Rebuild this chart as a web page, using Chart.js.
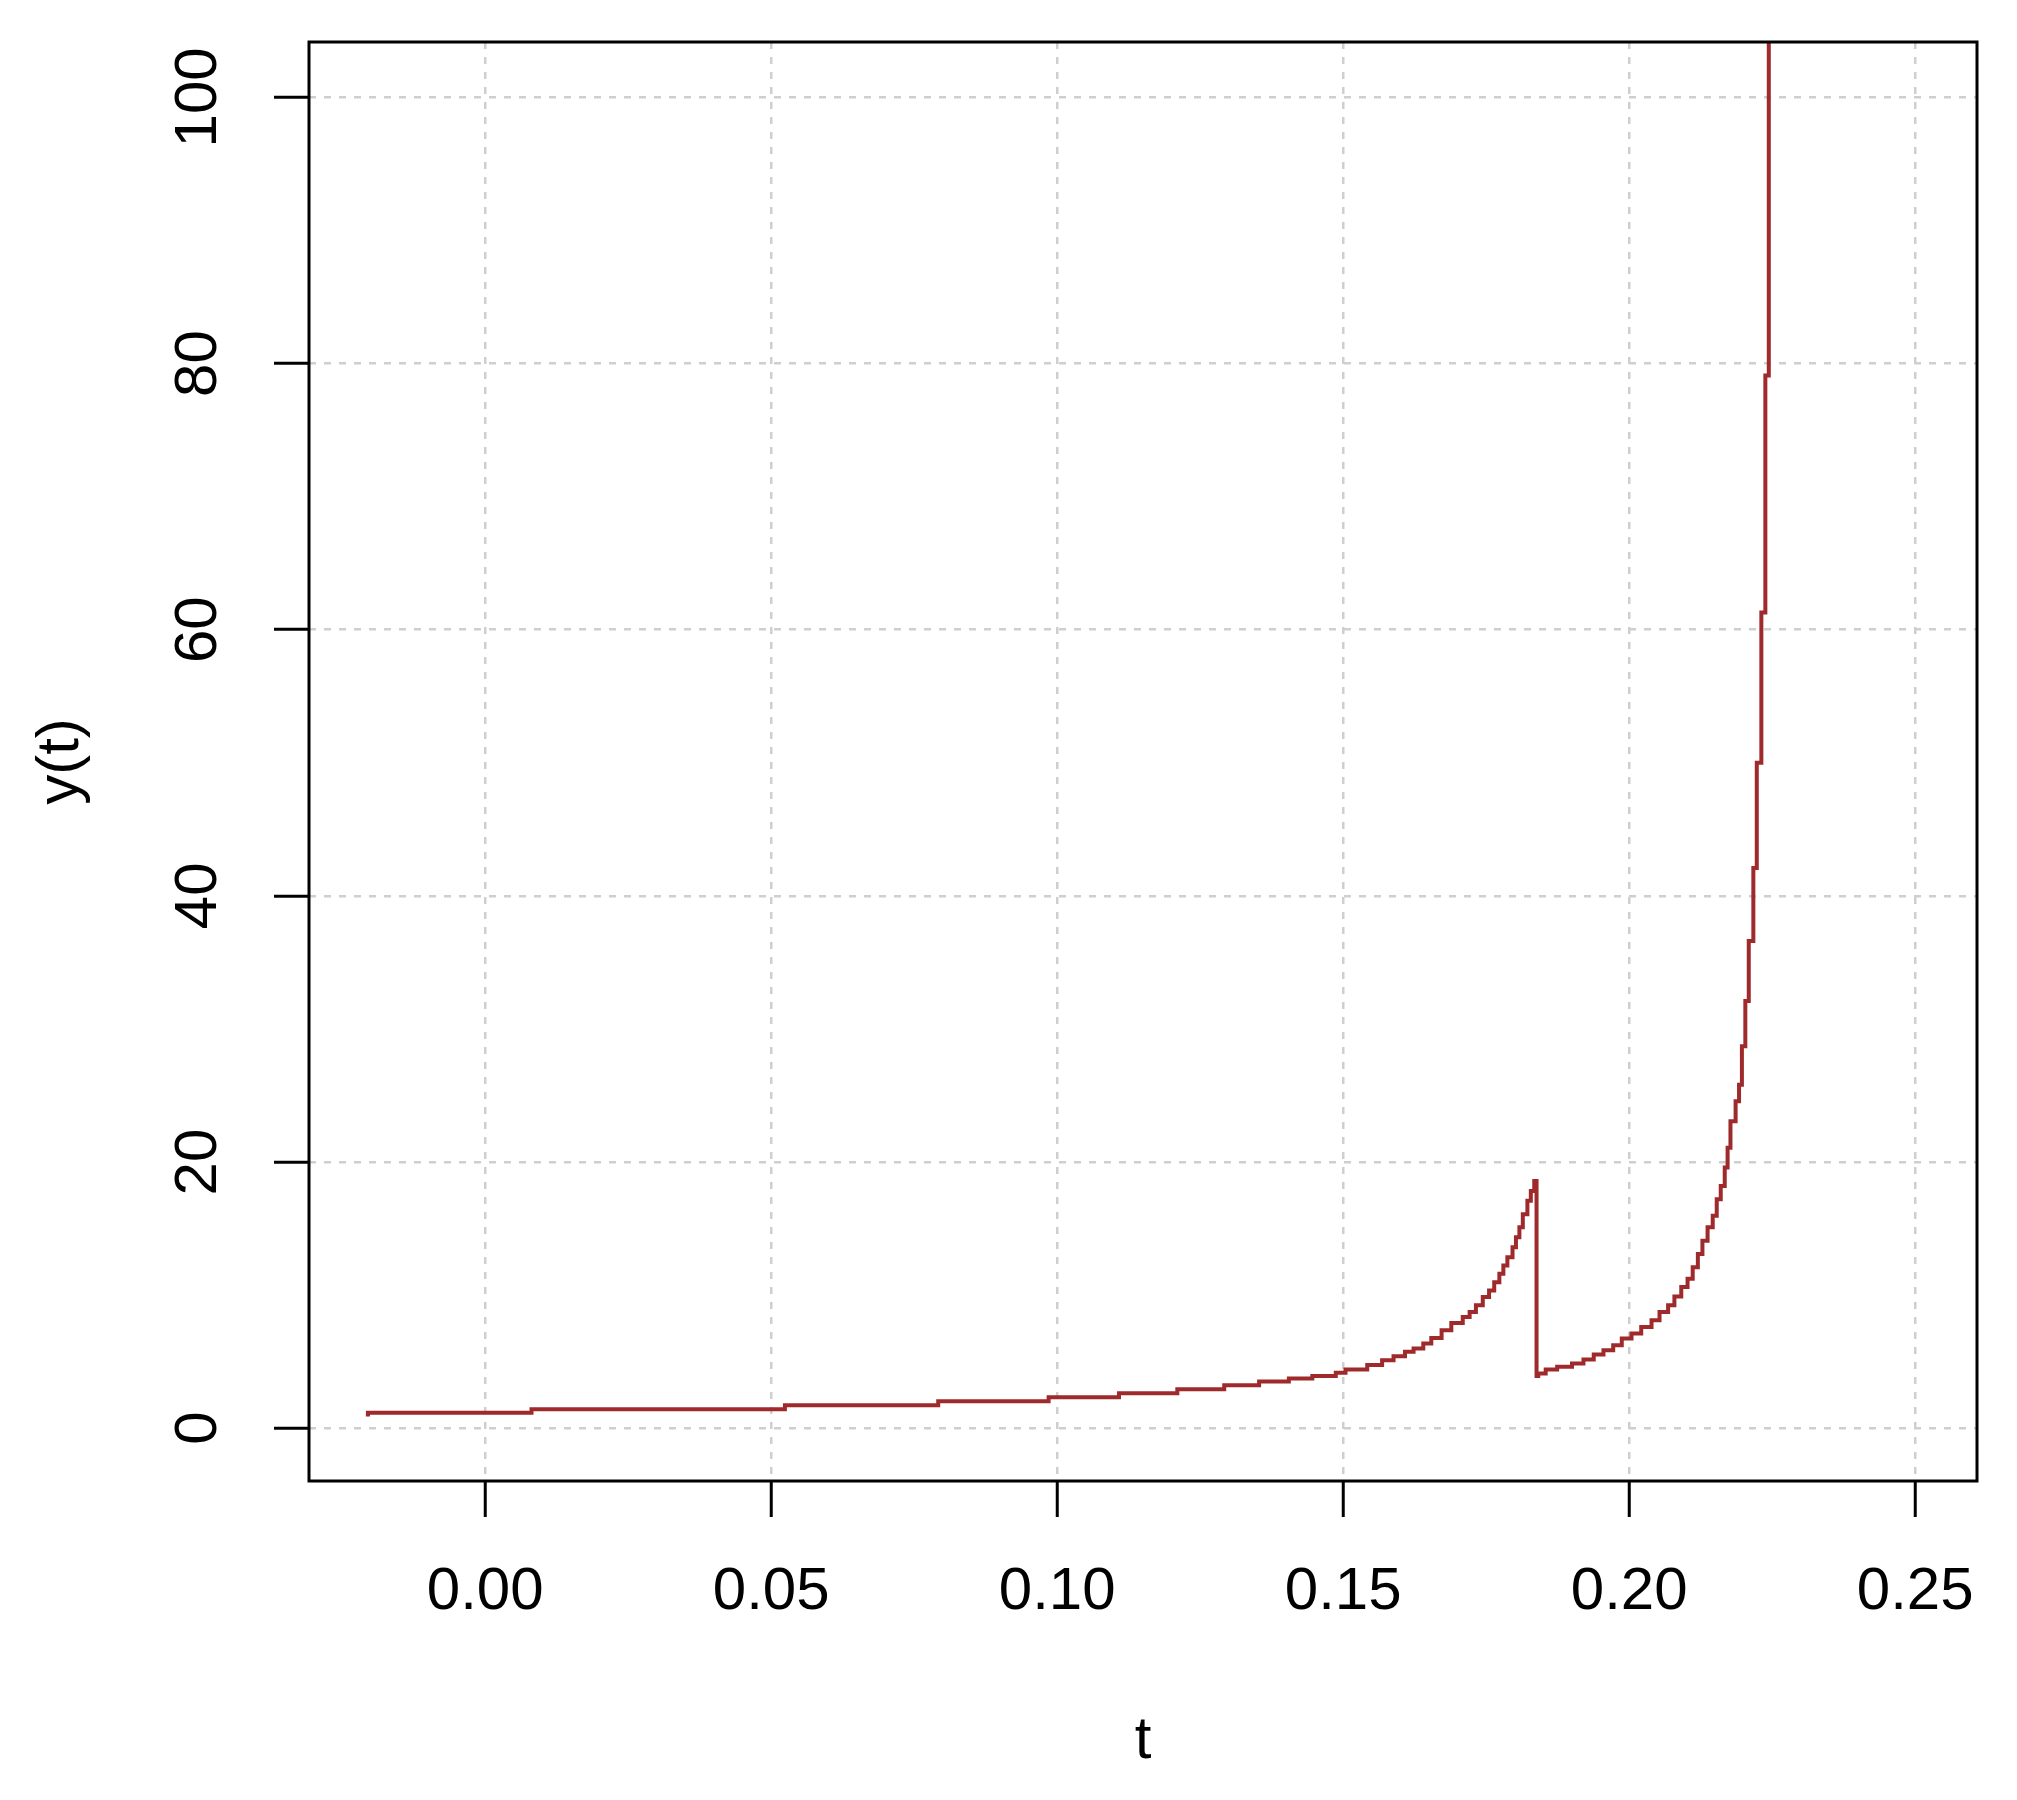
<!DOCTYPE html>
<html>
<head>
<meta charset="utf-8">
<title>y(t)</title>
<script src="https://cdn.jsdelivr.net/npm/chart.js@4.4.1/dist/chart.umd.min.js"></script>
<style>
  html, body { margin: 0; padding: 0; background: #fff; }
  #wrap { width: 2017px; height: 1800px; }
</style>
</head>
<body>
<div id="wrap"><canvas id="grafica" width="2017" height="1800"></canvas></div>
<script>
// valores (escalones de la curva)
var tValues = [-0.0205, 0.0081, 0.0524, 0.0792, 0.0985, 0.1108, 0.1210, 0.1292, 0.1353, 0.1405,
               0.1446, 0.1487, 0.1504, 0.1542, 0.1568, 0.1588, 0.1608, 0.1623, 0.1640, 0.1654,
               0.1672, 0.1689, 0.1709, 0.1721, 0.1732, 0.1744, 0.1755, 0.1764, 0.1773, 0.1780,
               0.1787, 0.1796, 0.1802, 0.1808, 0.1814, 0.1822, 0.1828, 0.1834, 0.1838, 0.1841,
               0.1854, 0.1874, 0.1900, 0.1920, 0.1938, 0.1955, 0.1972, 0.1987, 0.2004, 0.2021,
               0.2039, 0.2053, 0.2068, 0.2079, 0.2091, 0.2102, 0.2111, 0.2120, 0.2128, 0.2137,
               0.2146, 0.2153, 0.2160, 0.2167, 0.2172, 0.2177, 0.2186, 0.2192, 0.2197, 0.2203,
               0.2209, 0.2217, 0.2223, 0.2231, 0.2238, 0.2244, 0.2251];
var yValues = [0.88, 1.15, 1.43, 1.73, 2.03, 2.33, 2.63, 2.93, 3.23, 3.51,
               3.74, 3.92, 4.16, 4.41, 4.74, 5.11, 5.41, 5.74, 5.99, 6.36,
               6.78, 7.36, 7.91, 8.35, 8.73, 9.23, 9.85, 10.35, 10.97, 11.6,
               12.22, 12.84, 13.59, 14.34, 15.09, 16.08, 17.08, 17.83, 18.58, 3.92,
               4.11, 4.41, 4.61, 4.86, 5.16, 5.54, 5.86, 6.23, 6.73, 7.11,
               7.61, 8.1, 8.73, 9.23, 9.9, 10.6, 11.22, 12.09, 13.09, 14.09,
               15.09, 15.96, 17.21, 18.2, 19.58, 21.07, 23.07, 24.56, 25.8, 28.7,
               32.1, 36.6, 42.1, 50.0, 61.3, 79.1, 150];
var xTicks = [0.00, 0.05, 0.10, 0.15, 0.20, 0.25];
var yTicks = [0, 20, 40, 60, 80, 100];
var xLabel = 't';
var yLabel = 'y(t)';

var puntos = tValues.map(function (t, i) { return { x: t, y: yValues[i] }; });

var fuente = { family: '"Liberation Sans", Arial, sans-serif', size: 60 };
var gris = '#CFCFCF';

// caja alrededor del area de la grafica
var caja = {
    id: 'caja',
    afterDatasetsDraw: function (chart) {
        var a = chart.chartArea, ctx = chart.ctx;
        ctx.save();
        ctx.strokeStyle = '#000';
        ctx.lineWidth = 3;
        ctx.strokeRect(a.left, a.top, a.right - a.left, a.bottom - a.top);
        ctx.restore();
    }
};

new Chart(document.getElementById('grafica'), {
    type: 'line',
    data: {
        datasets: [{
            label: yLabel,
            data: puntos,
            borderColor: '#9E2A2B',
            borderWidth: 4,
            pointRadius: 0,
            stepped: 'after',
            tension: 0,
            fill: false
        }]
    },
    options: {
        responsive: false,
        devicePixelRatio: 1,
        animation: false,
        layout: { padding: { top: 42, right: 40, left: 0, bottom: 0 } },
        plugins: { legend: { display: false }, tooltip: { enabled: false } },
        scales: {
            x: {
                type: 'linear',
                min: -0.0308,
                max: 0.2608,
                afterBuildTicks: function (s) { s.ticks = xTicks.map(function (v) { return { value: v }; }); },
                afterFit: function (s) { s.height = 319; s.paddingLeft = 0; s.paddingRight = 0; },
                border: { display: false, dash: [7, 8] },
                grid: {
                    color: gris, lineWidth: 2.5,
                    tickColor: '#000', tickWidth: 3, tickLength: 36, tickBorderDash: []
                },
                ticks: {
                    font: fuente, color: '#000', padding: 39,
                    minRotation: 0, maxRotation: 0, autoSkip: false, includeBounds: false,
                    callback: function (v) { return Number(v).toFixed(2); }
                },
                title: { display: true, text: xLabel, font: fuente, color: '#000', padding: { top: 0, bottom: 23 } }
            },
            y: {
                type: 'linear',
                min: -3.97,
                max: 104.16,
                afterBuildTicks: function (s) { s.ticks = yTicks.map(function (v) { return { value: v }; }); },
                afterFit: function (s) { s.width = 309; s.paddingTop = 0; s.paddingBottom = 0; },
                border: { display: false, dash: [7, 8] },
                grid: {
                    color: gris, lineWidth: 2.5,
                    tickColor: '#000', tickWidth: 3, tickLength: 35, tickBorderDash: []
                },
                ticks: {
                    font: fuente, color: '#000', padding: 24,
                    minRotation: 90, maxRotation: 90, crossAlign: 'center', includeBounds: false,
                    callback: function (v) { return String(v); }
                },
                title: { display: true, text: yLabel, font: fuente, color: '#000', padding: { top: 25, bottom: 0 } }
            }
        }
    },
    plugins: [caja]
});
</script>
</body>
</html>
